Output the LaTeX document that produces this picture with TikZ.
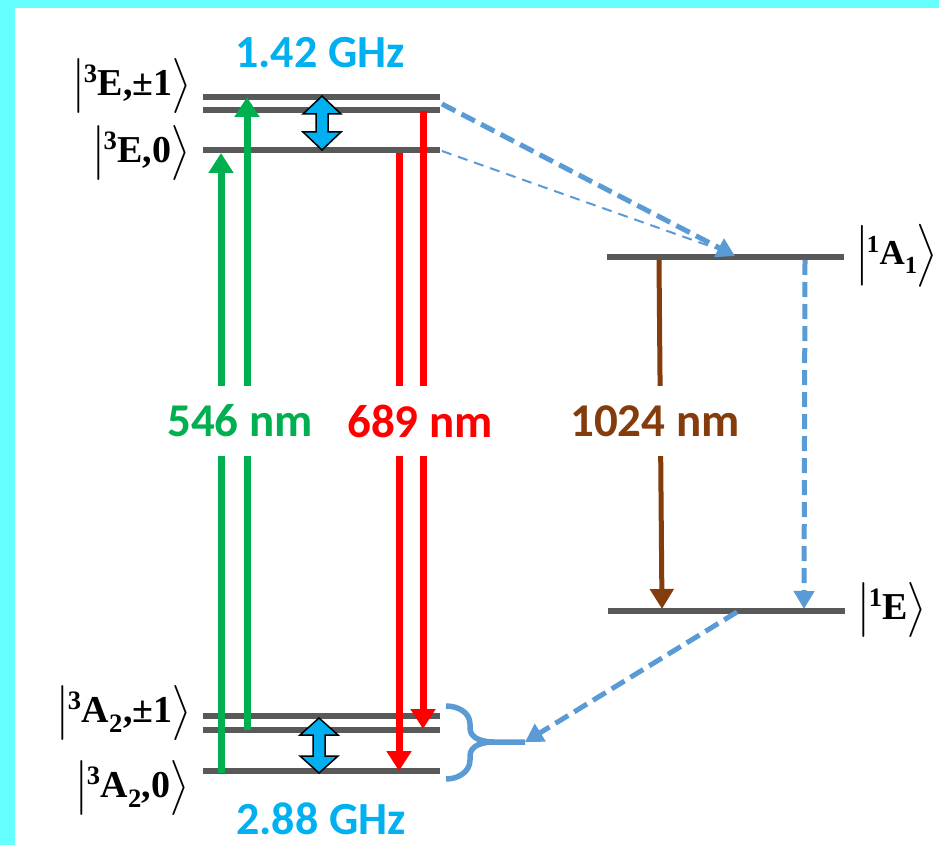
\documentclass[tikz,border=0pt]{standalone}
\usepackage{fontspec}
\usepackage{unicode-math}
\setmainfont{Liberation Serif}
\setmathfont{Latin Modern Math}
\newfontfamily\carl{Carlito}
\usetikzlibrary{arrows.meta}
\definecolor{lvl}{HTML}{595959}
\definecolor{grn}{HTML}{00B050}
\definecolor{rd}{HTML}{FF0000}
\definecolor{brn}{HTML}{843C0C}
\definecolor{bl}{HTML}{5B9BD5}
\definecolor{cy}{HTML}{00B0F0}
\definecolor{frame}{HTML}{66FFFF}
\newcommand{\ketlabel}[1]{$\left|\vrule height 38pt depth 18pt width 0pt\hbox{#1}\right\rangle$}
\newcommand{\dblarr}[4]{% x, ytop, ybot, headlength
  \filldraw[dblstyle] (#1,#2) -- ({#1+19},{#2+#4}) -- ({#1+6},{#2+#4}) -- ({#1+6},{#3-#4}) -- ({#1+19},{#3-#4}) -- (#1,#3) -- ({#1-19},{#3-#4}) -- ({#1-6},{#3-#4}) -- ({#1-6},{#2+#4}) -- ({#1-19},{#2+#4}) -- cycle;}
\tikzset{
  level/.style={draw=lvl, line width=6pt},
  ket/.style={inner sep=0pt, font=\fontsize{38}{44}\selectfont\bfseries},
  ketsmall/.style={inner sep=0pt, font=\fontsize{35}{40}\selectfont\bfseries},
  freq/.style={font=\carl\bfseries\fontsize{46}{50}\selectfont, text=cy, inner sep=0pt},
  wl/.style={font=\carl\bfseries\fontsize{47}{50}\selectfont, fill=white, inner xsep=3pt, inner ysep=0pt, minimum height=70pt},
  optarr/.style={line width=7pt, -{Triangle[width=24pt,length=20pt]}},
  isc/.style={draw=bl, line width=5pt, dash pattern=on 15pt off 7pt, -{Triangle[width=20pt,length=18pt]}},
  iscthin/.style={draw=bl, line width=2pt, dash pattern=on 10pt off 7pt},
  bracestyle/.style={draw=bl, line width=5.5pt},
  dblstyle/.style={fill=cy, draw=black, line width=1.5pt, line join=miter},
}
\begin{document}
\begin{tikzpicture}[x=1pt, y=-1pt]
\useasboundingbox (0,0) rectangle (939,845);
\fill[white] (0,0) rectangle (939,845);
\fill[frame] (0,0) rectangle (939,8);
\fill[frame] (0,0) rectangle (15,845);

% level end points
\coordinate (Ep1L) at (203,97);  \coordinate (Ep1R) at (440,97);
\coordinate (Ep2L) at (203,110); \coordinate (Ep2R) at (440,110);
\coordinate (E0L) at (203,150);  \coordinate (E0R) at (440,150);
\coordinate (A1L) at (607,257);  \coordinate (A1R) at (844,257);
\coordinate (E1L) at (608,611);  \coordinate (E1R) at (845,611);
\coordinate (Ap1L) at (203,716); \coordinate (Ap1R) at (440,716);
\coordinate (Ap2L) at (203,730); \coordinate (Ap2R) at (440,730);
\coordinate (A0L) at (203,771);  \coordinate (A0R) at (440,771);

\foreach \l in {Ep1,Ep2,E0,A1,E1,Ap1,Ap2,A0}{\draw[level] (\l L) -- (\l R);}

% arrow end points
\coordinate (g1s) at (221,773); \coordinate (g1e) at (221,153);
\coordinate (g2s) at (247,730); \coordinate (g2e) at (247,97);
\coordinate (r1s) at (399,153); \coordinate (r1e) at (399,771);
\coordinate (r2s) at (423,111); \coordinate (r2e) at (423,729);
\coordinate (bs) at (659,260);  \coordinate (be) at (662,609);
\coordinate (vs) at (805,260);  \coordinate (ve) at (804,609);
\coordinate (t1s) at (442,104); \coordinate (t1e) at (735,256);
\coordinate (t2s) at (442,151); \coordinate (t2e) at (718,249);
\coordinate (fs) at (737,612);  \coordinate (brace) at (525,742);

% optical transitions
\draw[optarr, grn] (g1s) -- (g1e);
\draw[optarr, grn] (g2s) -- (g2e);
\draw[optarr, rd] (r1s) -- (r1e);
\draw[optarr, rd] (r2s) -- (r2e);
\draw[brn, line width=5pt, -{Triangle[width=23pt,length=20pt]}] (bs) -- (be);

% intersystem crossings
\draw[isc] (t1s) -- (t1e);
\draw[iscthin] (t2s) -- (t2e);
\draw[isc] (vs) -- (ve);
\draw[isc] (fs) -- (brace);
\draw[bracestyle] (446,706) to[out=0,in=90] (470,724) -- (470,728) to[out=-90,in=180] (494,742) -- (brace);
\draw[bracestyle] (446,779) to[out=0,in=-90] (470,760) -- (470,756) to[out=90,in=180] (494,742);

% microwave splittings
\dblarr{322}{96}{150}{18}
\dblarr{319}{718}{773}{17}

% labels
\node[wl, text=grn] (l546) at (240,421) {546 nm};
\node[wl, text=rd] (l689) at (420,421) {689 nm};
\node[wl, text=brn] (l1024) at (655,421) {1024 nm};
\node[freq] (f142) at (320,53) {1.42 GHz};
\node[freq] (f288) at (321,819) {2.88 GHz};

\node[ket, anchor=east] (kEp) at (193,86) {\ketlabel{\textsuperscript{3}E,±1}};
\node[ket, anchor=east] (kE0) at (192,153) {\ketlabel{\textsuperscript{3}E,0}};
\node[ket, anchor=east] (kAp) at (193,713) {\ketlabel{\textsuperscript{3}A\textsubscript{2},±1}};
\node[ket, anchor=east] (kA0) at (191,788) {\ketlabel{\textsuperscript{3}A\textsubscript{2},0}};
\node[ketsmall, anchor=west] (kA1) at (857,256) {\ketlabel{\textsuperscript{1}A\textsubscript{1}}};
\node[ket, anchor=west] (kE1) at (858,610) {\ketlabel{\textsuperscript{1}E}};
\end{tikzpicture}
\end{document}
